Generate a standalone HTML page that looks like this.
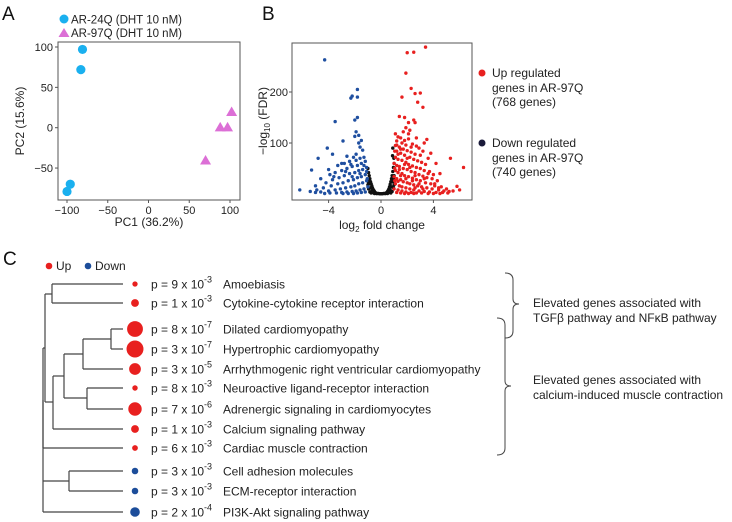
<!DOCTYPE html>
<html><head><meta charset="utf-8">
<style>
html,body{margin:0;padding:0;background:#fff;}
svg{display:block;font-family:"Liberation Sans",Arial,sans-serif;}
</style></head>
<body>
<svg id="fig" width="732" height="522" viewBox="0 0 732 522">
  <g>
    <text x="2" y="20" font-size="19" fill="#111">A</text>
    <g>
      <circle cx="64" cy="19" r="4.5" fill="#1ab0ef"/>
      <text x="71" y="23.5" font-size="11.5" fill="#222">AR-24Q (DHT 10 nM)</text>
      <polygon points="58.5,37 64,28 69.5,37" fill="#dc6fd6"/>
      <text x="71" y="37" font-size="11.5" fill="#222">AR-97Q (DHT 10 nM)</text>
    </g>
    <rect x="58" y="42" width="182" height="158" fill="none" stroke="#555" stroke-width="1"/>
    <g id="pcaAxes"></g>
    <g id="pcaPoints"></g>
    <text x="149" y="226" font-size="12" text-anchor="middle" fill="#222">PC1 (36.2%)</text>
    <text transform="translate(24,121) rotate(-90)" font-size="12" text-anchor="middle" fill="#222">PC2 (15.6%)</text>
  </g>

  <g>
    <text x="262" y="20" font-size="19" fill="#111">B</text>
    <rect x="292" y="43" width="180" height="157" fill="none" stroke="#555" stroke-width="1"/>
    <g id="volAxes"></g>
    <g id="volPoints"></g>
    <text x="382" y="229" font-size="12" text-anchor="middle" fill="#222">log<tspan font-size="8" dy="3">2</tspan><tspan dy="-3"> fold change</tspan></text>
    <text transform="translate(267,121) rotate(-90)" font-size="12" text-anchor="middle" fill="#222">−log<tspan font-size="8" dy="3">10</tspan><tspan dy="-3"> (FDR)</tspan></text>
    <g>
      <circle cx="482" cy="73" r="3.5" fill="#e8201f"/>
      <text font-size="12" fill="#222"><tspan x="492" y="77">Up regulated</tspan><tspan x="492" y="92">genes in AR-97Q</tspan><tspan x="492" y="106">(768 genes)</tspan></text>
      <circle cx="482" cy="143" r="3.5" fill="#1a1a3a"/>
      <text font-size="12" fill="#222"><tspan x="492" y="147">Down regulated</tspan><tspan x="492" y="162">genes in AR-97Q</tspan><tspan x="492" y="176">(740 genes)</tspan></text>
    </g>
  </g>

  <g>
    <text x="3" y="265" font-size="19" fill="#111">C</text>
    <circle cx="49" cy="266" r="3.3" fill="#e8201f"/>
    <text x="56" y="270" font-size="12" fill="#222">Up</text>
    <circle cx="88" cy="266" r="3.3" fill="#1c4d9a"/>
    <text x="95" y="270" font-size="12" fill="#222">Down</text>
    <g id="dendro" stroke="#444" stroke-width="1.2" fill="none"></g>
    <g id="pathways"></g>
    <g>
      <path d="M505,273 Q513,273 513,280 L513,299 Q513,304 519,304 Q513,304 513,309 L513,331 Q513,338 505,338" fill="none" stroke="#444" stroke-width="1"/>
      <text font-size="12" fill="#222"><tspan x="533" y="307">Elevated genes associated with</tspan><tspan x="533" y="322">TGFβ pathway and NFκB pathway</tspan></text>
    </g>
    <g>
      <path d="M497,318 Q505,318 505,325 L505,381 Q505,386 511,386 Q505,386 505,391 L505,448 Q505,455 497,455" fill="none" stroke="#444" stroke-width="1"/>
      <text font-size="12" fill="#222"><tspan x="533" y="384">Elevated genes associated with</tspan><tspan x="533" y="399">calcium-induced muscle contraction</tspan></text>
    </g>
  </g>
</svg>
<script>
const pcaAr24qPC1 = [-81, -83, -96, -100];
const pcaAr24qPC2 = [97, 72, -70, -79];
const pcaAr97qPC1 = [102, 88, 97, 70];
const pcaAr97qPC2 = [20, 1, 1, -40];
const pcaXTicks = [-100, -50, 0, 50, 100];
const pcaYTicks = [-50, 0, 50, 100];

const volXTicks = [-4, 0, 4];
const volYTicks = [100, 200];
const upGenes = [[2.0,277],[2.5,278],[3.4,288],[1.9,237],[2.3,207],[2.6,197],[3.0,198],[1.6,190],[2.8,180],[3.2,170],[1.4,152],[1.8,150],[2.1,140],[2.5,145],[2.6,140],[1.9,130],[2.2,125],[1.7,122],[3.5,107],[3.3,100],[5.3,70],[6.3,52],[4.5,40],[5.8,15],[6.0,8],[5.5,6],[2.9,90],[3.8,80],[4.2,60],[3.6,70],
[1.1,118],[1.3,112],[1.5,110],[1.2,104],[1.6,100],[1.9,96],[2.1,108],[2.4,98],[2.7,94],[1.1,95],[1.4,92],[1.7,88],[2.0,85],[2.3,82],[2.6,78],[3.0,76],[1.2,84],[1.5,80],[1.8,76],[2.2,72],[2.5,68],[2.8,65],[3.1,62],[3.4,58],[1.1,72],[1.3,68],[1.6,66],[1.9,62],[2.1,58],[2.4,55],[2.7,52],[3.0,50],[3.3,46],[3.7,44],[4.0,38],[1.0,60],[1.2,56],[1.4,54],[1.7,50],[2.0,48],[2.3,44],[2.6,42],[2.9,38],[3.2,35],[3.5,32],[3.9,30],[4.3,26],[1.1,46],[1.3,42],[1.6,40],[1.8,36],[2.1,34],[2.4,31],[2.7,28],[3.0,26],[3.4,22],[3.8,20],[4.1,16],[4.6,14],[5.0,10],[1.0,34],[1.2,30],[1.5,28],[1.7,24],[2.0,22],[2.2,20],[2.5,18],[2.8,16],[3.1,14],[3.5,12],[3.9,10],[4.4,8],[4.8,6],[5.2,5],[1.1,20],[1.4,16],[1.6,14],[1.9,12],[2.2,10],[2.5,8],[2.9,6],[3.3,5],[3.7,4],[4.2,3],[4.7,3],[5.1,2],[1.0,10],[1.3,8],[1.6,6],[1.9,4],[2.3,3],[2.7,2],[3.1,2],[3.6,1],[4.0,1],[4.5,1],[1.2,3],[1.5,2],[1.8,1],[2.1,1],[2.5,1],[1.3,25],[1.9,30],[2.4,26],[1.5,36],[2.6,36],[1.4,48],[2.2,52],[1.8,58],[1.3,78],[2.0,70],[1.5,88],[2.3,92],[1.2,96],[3.2,84],[2.7,110],[1.8,105],[2.1,118],[1.05,50],[1.05,26],[1.05,84],[2.9,20],[3.3,30],[3.6,40],[4.1,20],[4.4,12],[3.2,10],[2.6,12]];
const downGenes = [[-4.3,263],[-1.8,205],[-2.2,192],[-1.8,190],[-2.3,188],[-3.5,142],[-1.8,150],[-2.0,145],[-1.9,122],[-1.7,115],[-2.0,113],[-2.9,104],[-4.1,90],[-3.7,78],[-4.8,70],[-5.3,47],[-6.2,8],[-5.4,5],[-1.5,105],[-1.7,100],[-3.0,60],[-2.6,74],[-2.1,72],[-1.3,72],[-1.6,70],[-1.9,66],[-2.4,64],[-2.8,60],[-3.3,56],[-1.2,64],[-1.5,60],[-1.8,56],[-2.2,54],[-2.6,50],[-3.0,46],[-3.5,42],[-3.9,38],[-1.1,52],[-1.4,48],[-1.7,46],[-2.0,42],[-2.4,40],[-2.8,36],[-3.2,32],[-3.7,28],[-4.2,22],[-1.2,38],[-1.5,34],[-1.8,32],[-2.1,28],[-2.5,26],[-2.9,22],[-3.3,20],[-3.8,16],[-4.4,12],[-4.9,8],[-1.1,26],[-1.4,22],[-1.7,20],[-2.0,16],[-2.3,14],[-2.7,12],[-3.1,10],[-3.5,8],[-4.0,6],[-4.6,4],[-5.0,3],[-1.0,14],[-1.3,10],[-1.6,8],[-1.9,6],[-2.2,5],[-2.6,4],[-3.0,3],[-3.4,2],[-3.9,2],[-4.3,1],[-1.2,4],[-1.5,3],[-1.8,2],[-2.1,1],[-2.5,1],[-2.9,1],[-1.3,56],[-1.6,40],[-2.2,34],[-2.7,44],[-1.9,78],[-1.4,86],[-1.6,92],[-2.3,58],[-1.1,44],[-1.05,30],[-3.6,34],[-4.0,48],[-4.6,30],[-5.0,16]];
const nsGenes = [[-1.0,50],[-0.95,42],[-0.9,36],[-0.85,30],[-0.8,24],[-0.75,20],[-0.7,16],[-0.65,12],[-0.6,9],[-0.55,7],[-0.5,5],[-0.45,3],[-0.4,2],[-0.35,1],[-0.3,1],[-0.9,20],[-0.8,12],[-0.7,6],[-0.6,3],[-0.95,10],[-0.85,4],[-0.75,2],[-1.0,28],[-0.95,22],[1.0,60],[0.95,52],[0.9,44],[0.85,36],[0.8,30],[0.75,24],[0.7,19],[0.65,14],[0.6,10],[0.55,7],[0.5,5],[0.45,3],[0.4,2],[0.35,1],[0.3,1],[0.9,24],[0.8,14],[0.7,8],[0.6,3],[0.95,12],[0.85,5],[0.75,2],[1.0,36],[0.95,30],[0.9,90],[0.88,75],[0.98,70],[0.2,1],[-0.2,1],[0.0,0.5],[0.1,0.5],[-0.1,0.5],[0.5,1],[-0.5,1],[0.65,4],[-0.65,3],[1.0,18],[-1.0,18]];

const pathwayNames = ["Amoebiasis","Cytokine-cytokine receptor interaction","Dilated cardiomyopathy","Hypertrophic cardiomyopathy","Arrhythmogenic right ventricular cardiomyopathy","Neuroactive ligand-receptor interaction","Adrenergic signaling in cardiomyocytes","Calcium signaling pathway","Cardiac muscle contraction","Cell adhesion molecules","ECM-receptor interaction","PI3K-Akt signaling pathway"];
const pathwayMantissa = [9,1,8,3,3,8,7,1,6,3,3,2];
const pathwayExponent = [-3,-3,-7,-7,-5,-3,-6,-3,-3,-3,-3,-4];
const pathwayDirection = ["up","up","up","up","up","up","up","up","up","down","down","down"];

const NS = "http://www.w3.org/2000/svg";
function mk(tag, attrs, parent){ const e=document.createElementNS(NS,tag); for(const k in attrs) e.setAttribute(k,attrs[k]); parent.appendChild(e); return e; }

const ax = v => 148.5 + v*0.815;
const ay = v => 127.7 - v*0.807;
const pcaAxes = document.getElementById('pcaAxes');
pcaXTicks.forEach(t=>{
  const l=mk('line',{x1:ax(t),x2:ax(t),y1:200,y2:203,stroke:'#555'},pcaAxes);
  
  
  const tx=mk('text',{x:ax(t),y:214,'font-size':11,'text-anchor':'middle',fill:'#222'},pcaAxes);
  tx.textContent = t<0 ? '−'+(-t) : String(t);
  
  
});
pcaYTicks.forEach(t=>{
  const l=mk('line',{x1:55,x2:58,y1:ay(t),y2:ay(t),stroke:'#555'},pcaAxes);
  
  
  const tx=mk('text',{x:53,y:ay(t)+4,'font-size':11,'text-anchor':'end',fill:'#222'},pcaAxes);
  tx.textContent = t<0 ? '−'+(-t) : String(t);
  
  
});
const pcaPoints = document.getElementById('pcaPoints');
pcaAr24qPC1.forEach((v,i)=>{
  const c=mk('circle',{cx:ax(v),cy:ay(pcaAr24qPC2[i]),r:4.6,fill:'#1ab0ef'},pcaPoints);
  
  
});
pcaAr97qPC1.forEach((v,i)=>{
  const x=ax(v), y=ay(pcaAr97qPC2[i]);
  const p=mk('polygon',{points:`${x-5.5},${y+4.5} ${x},${y-5} ${x+5.5},${y+4.5}`,fill:'#dc6fd6'},pcaPoints);
  
  
});

const bx = v => 381 + v*13.1;
const by = v => 194 - v*0.51;
const volAxes = document.getElementById('volAxes');
volXTicks.forEach(t=>{
  const l=mk('line',{x1:bx(t),x2:bx(t),y1:200,y2:203,stroke:'#555'},volAxes);
  
  
  const tx=mk('text',{x:bx(t),y:214,'font-size':11,'text-anchor':'middle',fill:'#222'},volAxes);
  tx.textContent = t<0 ? '−'+(-t) : String(t);
  
  
});
volYTicks.forEach(t=>{
  const l=mk('line',{x1:289,x2:292,y1:by(t),y2:by(t),stroke:'#555'},volAxes);
  
  
  const tx=mk('text',{x:288,y:by(t)+4,'font-size':11,'text-anchor':'end',fill:'#222'},volAxes);
  tx.textContent = String(t);
  
  
});
const volPoints = document.getElementById('volPoints');
function drawGenes(arr,color,name){
  arr.forEach(p=>{
    const c=mk('circle',{cx:bx(p[0]),cy:by(p[1]),r:1.7,fill:color},volPoints);
    
    
  });
}
drawGenes(nsGenes,'#111','gene-not-significant');
drawGenes(downGenes,'#1f4fa0','gene-down');
drawGenes(upGenes,'#e8201f','gene-up');

const rowY = [284,303,329,349,369,388,409,429,448,471,491,512];
const dendro = document.getElementById('dendro');
function seg(x1,y1,x2,y2){ const l=mk('line',{x1,y1,x2,y2},dendro);
  
   }
const leafStart=[52,52,111,111,83,87,87,53,43,69,69,43];
rowY.forEach((y,i)=>seg(leafStart[i],y,123,y));
seg(52,284,52,303); seg(45,294,52,294);
seg(111,329,111,349); seg(83,339,111,339);
seg(83,339,83,369); seg(64,354,83,354);
seg(87,388,87,409); seg(64,398,87,398);
seg(64,354,64,398); seg(53,376,64,376);
seg(53,376,53,429); seg(45,402,53,402);
seg(45,294,45,402); seg(43,348,45,348);
seg(43,348,43,448);
seg(69,471,69,491); seg(43,481,69,481);
seg(43,400,43,512);

const pw = document.getElementById('pathways');
pathwayNames.forEach((n,i)=>{
  const y=rowY[i];
  const lp = -pathwayExponent[i]-Math.log10(pathwayMantissa[i]);
  const r = Math.max(2.6, Math.min(9, 1.3*lp));
  const c=mk('circle',{cx:135,cy:y,r:r,fill:pathwayDirection[i]==='up'?'#e8201f':'#1c4d9a'},pw);
  
  
  const t=mk('text',{x:151,y:y+4.5,'font-size':12,fill:'#222'},pw);
  
  
  t.textContent='p = '+pathwayMantissa[i]+' x 10';
  const s=mk('tspan',{'font-size':9,dy:-6},t);
  s.textContent=String(pathwayExponent[i]);
  const t2=mk('text',{x:223,y:y+4.5,'font-size':12,fill:'#222'},pw);
  
  
  t2.textContent=n;
});
</script>
</body></html>
